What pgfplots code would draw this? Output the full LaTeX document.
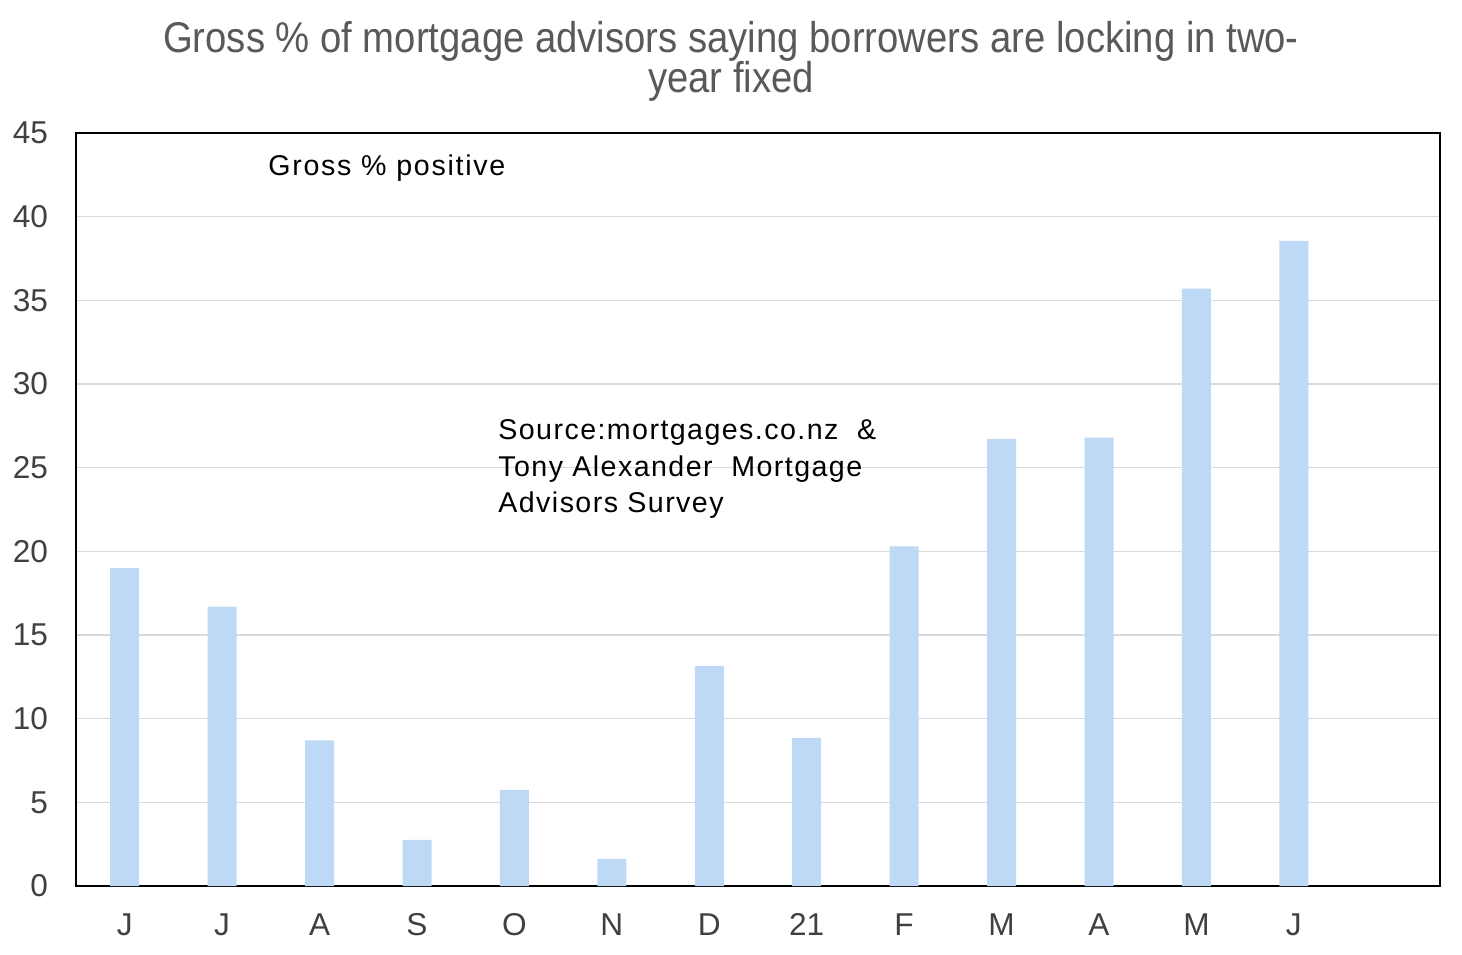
\documentclass[border=0pt]{standalone}
\usepackage{pgfplots}
\pgfplotsset{compat=1.18}
\usepackage{fontspec}
\setmainfont{Liberation Sans}
\definecolor{barblue}{RGB}{189,217,245}
\definecolor{titlegray}{RGB}{89,89,89}
\definecolor{tickgray}{RGB}{64,64,64}
\definecolor{gridgray}{RGB}{217,217,217}
\begin{document}
\begin{tikzpicture}[x=1pt,y=1pt]
\useasboundingbox (0,0) rectangle (731,477);
\begin{axis}[
  at={(38pt,34pt)}, anchor=south west,
  scale only axis, width=682pt, height=376.5pt,
  xmin=-0.5, xmax=13.5, ymin=0, ymax=45,
  ytick={0,5,...,45},
  xtick={0,...,12},
  xticklabels={J,J,A,S,O,N,D,21,F,M,A,M,J},
  major tick length=0pt,
  ymajorgrids, grid style={gridgray, line width=0.7pt},
  axis line style={black, line width=0.8pt},
  tick label style={font=\fontsize{15.8}{18}\selectfont, text=tickgray},
  /pgf/number format/assume math mode=true,
  yticklabel style={anchor=east, xshift=-10.5pt},
  xticklabel style={anchor=base, yshift=-24.5pt},
  axis on top=false,
]
\addplot[ybar, bar width=14.5pt, fill=barblue, draw=none] coordinates {
(0,19.0) (1,16.7) (2,8.7) (3,2.75) (4,5.75) (5,1.6) (6,13.15) (7,8.85) (8,20.3) (9,26.7) (10,26.8) (11,35.7) (12,38.55)
};
\end{axis}
\node[anchor=base, text=titlegray, font=\fontsize{21.5}{24}\selectfont, inner sep=0pt] at (365.5,450.5) {\scalebox{0.89}[1]{Gross \% of mortgage advisors saying borrowers are locking in two-}};
\node[anchor=base, text=titlegray, font=\fontsize{21.5}{24}\selectfont, inner sep=0pt] at (365.5,430.5) {\scalebox{0.89}[1]{year fixed}};
\node[anchor=base west, inner sep=0pt, font=\fontsize{14.3}{17}\selectfont\addfontfeature{LetterSpace=6}] at (134,389) {Gross \% positive};
\node[anchor=base west, inner sep=0pt, font=\fontsize{14.3}{17}\selectfont\addfontfeature{LetterSpace=5}] at (249,257) {Source:mortgages.co.nz \ \&};
\node[anchor=base west, inner sep=0pt, font=\fontsize{14.3}{17}\selectfont\addfontfeature{LetterSpace=5}] at (249,238.5) {Tony Alexander \ Mortgage};
\node[anchor=base west, inner sep=0pt, font=\fontsize{14.3}{17}\selectfont\addfontfeature{LetterSpace=5}] at (249,220.5) {Advisors Survey};
\end{tikzpicture}
\end{document}
